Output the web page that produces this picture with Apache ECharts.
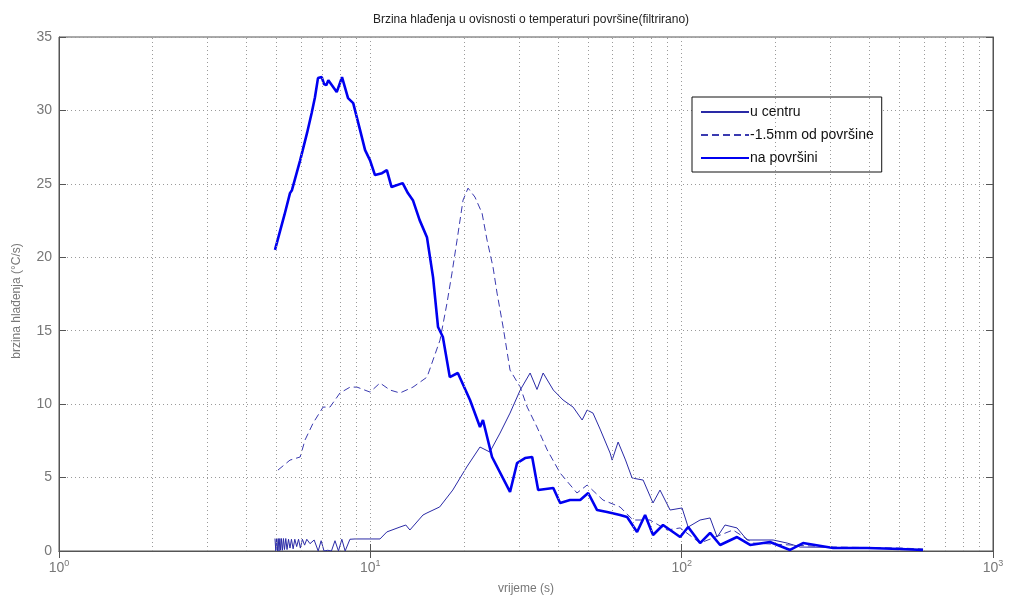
<!DOCTYPE html>
<html><head><meta charset="utf-8">
<script src="https://cdn.jsdelivr.net/npm/echarts@6/dist/echarts.min.js"></script>
<style>html,body{margin:0;padding:0;background:#fff}#c{width:1012px;height:600px}</style>
</head><body><div id="c"></div>
<script>
// [time s, cooling rate °C/s]
const centre = [[4.94,0.85],[4.97,0],[5.0,0.85],[5.03,0],[5.06,0.85],[5.09,0],[5.12,0.85],[5.15,0.05],[5.18,0.85],[5.22,0.05],[5.26,0.85],[5.3,0.1],[5.35,0.85],[5.4,0.1],[5.46,0.8],[5.52,0.2],[5.58,0.8],[5.65,0.15],[5.72,0.8],[5.8,0.3],[5.88,0.8],[5.96,0.2],[6.05,0.8],[6.15,0.4],[6.25,0.8],[6.4,0.5],[6.6,0.75],[6.8,0.0],[6.95,0.7],[7.1,0.0],[7.3,0.05],[7.5,0.0],[7.7,0.7],[7.9,0.0],[8.1,0.8],[8.3,0.0],[8.6,0.8],[8.93,0.82],[10.74,0.82],[11.3,1.3],[12.45,1.63],[13.0,1.77],[13.4,1.43],[14.76,2.45],[15.2,2.59],[16.7,3.0],[18.4,4.15],[20.4,5.72],[22.5,7.08],[24.2,6.74],[26.1,8.03],[28.1,9.39],[30.3,10.96],[32.6,12.12],[34.3,11.0],[35.9,12.12],[38.7,10.96],[41.6,10.28],[44.8,9.8],[47.9,8.92],[49.7,9.6],[51.9,9.39],[54.7,8.3],[58.9,6.67],[59.8,6.19],[62.5,7.42],[66,6.2],[69.3,4.97],[75.2,4.83],[80.9,3.27],[85.2,4.15],[91.8,2.79],[100.3,2.93],[104.9,1.63],[114.6,2.11],[123.4,2.25],[130,0.95],[137.8,1.77],[150.6,1.57],[162.2,0.75],[196.6,0.75],[218.2,0.54],[240,0.27],[300,0.25],[400,0.2],[500,0.15],[596,0.1]];
const below = [[5.05,5.51],[5.52,6.19],[5.95,6.4],[6.17,7.56],[6.55,8.71],[7.05,9.8],[7.42,9.8],[7.99,10.76],[8.61,11.16],[9.06,11.16],[9.98,10.82],[10.74,11.44],[11.57,10.96],[12.45,10.76],[13.71,11.16],[15.21,11.84],[16.74,14.36],[17.63,16.88],[18.29,18.92],[18.99,21.17],[19.85,23.89],[20.6,24.71],[21.68,24.1],[22.85,23.0],[23.71,21.17],[24.78,19.33],[25.53,17.56],[26.7,15.25],[28.1,12.32],[30.3,11.16],[31.9,9.8],[34.3,8.44],[37.0,6.88],[40.7,5.31],[46.1,3.95],[49.7,4.49],[55.9,3.47],[63.4,3.0],[69.8,2.11],[79.1,2.11],[89.8,1.43],[98.9,1.57],[114.6,0.54],[146.2,1.43],[169.6,0.54],[222.9,0.41],[306.4,0.27],[503.5,0.2],[596,0.14]];
const surface = [[4.94,20.5],[5.3,22.9],[5.52,24.37],[5.6,24.57],[5.95,26.6],[6.26,28.45],[6.48,29.82],[6.64,30.9],[6.79,32.2],[6.98,32.27],[7.1,31.8],[7.22,31.72],[7.33,32.06],[7.8,31.25],[8.11,32.27],[8.48,30.84],[8.81,30.5],[9.27,28.66],[9.62,27.3],[9.98,26.6],[10.35,25.6],[10.9,25.73],[11.3,25.94],[11.7,24.78],[12.7,25.05],[13.2,24.37],[13.7,23.89],[14.4,22.53],[15.2,21.37],[15.9,18.65],[16.5,15.25],[17.1,14.57],[18.0,11.84],[19.1,12.12],[20.9,10.28],[22.5,8.44],[23.0,8.92],[24.6,6.4],[28.1,4.02],[29.6,5.99],[31.4,6.33],[33.1,6.4],[34.6,4.15],[38.7,4.29],[40.7,3.27],[43.8,3.47],[47.2,3.47],[50.1,3.95],[53.5,2.79],[57.6,2.65],[63.4,2.45],[66.8,2.31],[71.9,1.29],[76.3,2.45],[80.9,1.09],[87.1,1.77],[98.9,0.95],[104.9,1.63],[114.6,0.54],[123.4,1.23],[132.9,0.41],[150.6,0.95],[165.9,0.41],[192.2,0.61],[222.9,0.07],[245.4,0.54],[306.4,0.2],[394.2,0.2],[503.5,0.14],[596,0.07]];
const minorX = [2,3,4,5,6,7,8,9,20,30,40,50,60,70,80,90,200,300,400,500,600,700,800,900];
const names = ['u centru','-1.5mm od površine','na površini'];

const chart = echarts.init(document.getElementById('c'), null, {renderer:'canvas'});
const dotted = {color:'#9a9a9a', type:[1,3], width:1};
const font = 'Liberation Sans, Arial, sans-serif';
chart.setOption({
  animation:false,
  backgroundColor:'#fff',
  title:{text:'Brzina hlađenja u ovisnosti o temperaturi površine(filtrirano)', left:526, top:9, textAlign:'center',
    textStyle:{fontSize:12, fontWeight:'normal', color:'#222', fontFamily:font}},
  grid:{left:59, right:19, top:37, bottom:49, show:true, borderColor:'#555', borderWidth:1, backgroundColor:'#fff'},
  legend:{left:692, top:97, orient:'vertical', itemWidth:48, itemHeight:12, itemGap:9,
    padding:[8,8,7,8], backgroundColor:'#fff', borderColor:'#111', borderWidth:1, borderRadius:0,
    itemStyle:{opacity:0},
    textStyle:{fontSize:14, color:'#111', fontFamily:font, padding:[0,0,0,-4]}, data:names},
  xAxis:[{type:'log', logBase:10, min:1, max:1000,
    name:'vrijeme (s)', nameLocation:'middle', nameGap:32,
    nameTextStyle:{fontSize:12, color:'#777', fontFamily:font},
    axisLine:{show:true, lineStyle:{color:'#555'}},
    axisTick:{show:true, inside:true, length:7, lineStyle:{color:'#555'}},
    axisLabel:{margin:8, color:'#777', fontFamily:font, fontSize:14,
      formatter:v=>'10{s|'+Math.round(Math.log10(v))+'}',
      rich:{s:{fontSize:9, color:'#777', verticalAlign:'top', padding:[0,0,10,0]}}},
    splitLine:{show:true, lineStyle:dotted}},
    {type:'log', logBase:10, min:1, max:1000, position:'top',
    axisLine:{show:true, lineStyle:{color:'#555'}},
    axisTick:{show:true, inside:true, length:7, lineStyle:{color:'#555'}},
    axisLabel:{show:false}, splitLine:{show:false}}],
  yAxis:[{type:'value', min:0, max:35, interval:5,
    name:'brzina hlađenja (°C/s)', nameLocation:'middle', nameGap:36,
    nameTextStyle:{fontSize:12, color:'#777', fontFamily:font, padding:[0,0,0,-14]},
    axisLine:{show:true, lineStyle:{color:'#555'}},
    axisTick:{show:true, inside:true, length:7, lineStyle:{color:'#555'}},
    axisLabel:{margin:7, color:'#777', fontFamily:font, fontSize:14},
    splitLine:{show:true, lineStyle:dotted}},
    {type:'value', min:0, max:35, interval:5, position:'right',
    axisLine:{show:true, lineStyle:{color:'#555'}},
    axisTick:{show:true, inside:true, length:7, lineStyle:{color:'#555'}},
    axisLabel:{show:false}, splitLine:{show:false}}],
  series:[
    {name:names[0], type:'line', data:centre, showSymbol:false, symbol:'none',
      lineStyle:{color:'#2a2aa6', width:1}, itemStyle:{color:'#2a2aa6'},
      markLine:{silent:true, symbol:['none','none'], label:{show:false}, animation:false,
        lineStyle:dotted, emphasis:{disabled:true},
        data:minorX.map(v=>({xAxis:v}))}},
    {name:names[1], type:'line', data:below, showSymbol:false, symbol:'none',
      lineStyle:{color:'#3a3ab0', width:1, type:[7,4]}, itemStyle:{color:'#3a3ab0'}},
    {name:names[2], type:'line', data:surface, showSymbol:false, symbol:'none',
      lineStyle:{color:'#0000f0', width:2.6}, itemStyle:{color:'#0000f0'}}
  ]
});
</script></body></html>
